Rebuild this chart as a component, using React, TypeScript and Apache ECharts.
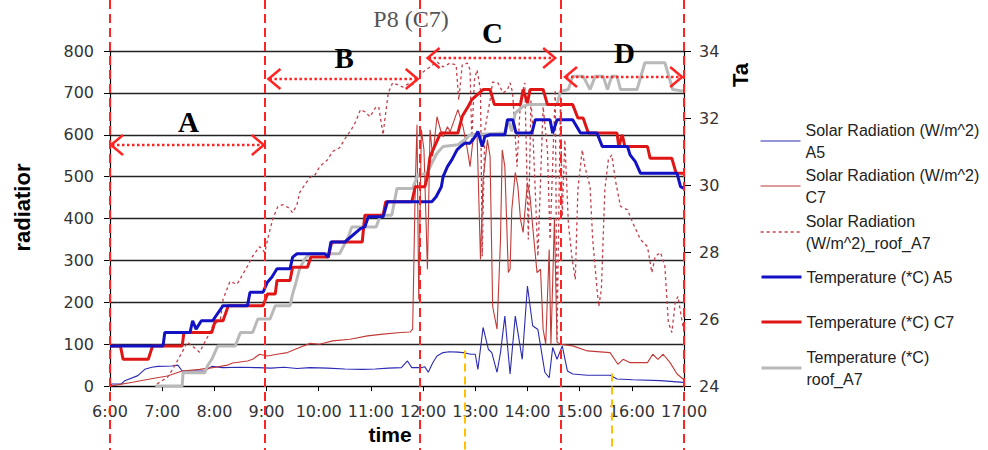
import React, { useEffect, useRef } from "react";
import * as echarts from "echarts";

// ---- data (time in minutes after midnight, value) ----
const SERIES_NAMES = [
  "Solar Radiation (W/m^2) A5",
  "Solar Radiation (W/m^2) C7",
  "Solar Radiation (W/m^2)_roof_A7",
  "Temperature (*C) A5",
  "Temperature (*C) C7",
  "Temperature (*C) roof_A7",
];
const LEGEND_LABELS = [
  "Solar Radiation (W/m^2)\nA5",
  "Solar Radiation (W/m^2)\nC7",
  "Solar Radiation\n(W/m^2)_roof_A7",
  "Temperature (*C) A5",
  "Temperature (*C) C7",
  "Temperature (*C)\nroof_A7",
];

const radA5: [number, number][] = [
  [360, 0], [362, 5], [373, 5], [377, 13], [392, 25], [400, 40], [408, 45], [415, 47], [431, 48], [438, 50],
  [443, 36], [469, 36], [477, 47], [490, 44], [510, 45], [530, 44], [545, 43], [560, 45], [575, 42], [590, 44],
  [610, 43], [630, 41], [650, 40], [665, 41], [680, 43], [695, 44], [702, 60], [707, 44], [718, 44], [722, 46],
  [726, 33], [731, 55], [736, 72], [743, 80], [750, 82], [760, 81], [766, 80], [775, 76], [780, 76], [783, 40],
  [789, 140], [795, 88], [799, 80], [805, 33], [809, 80], [814, 167], [820, 29], [826, 167], [834, 64], [840, 239],
  [846, 144], [852, 135], [860, 33], [865, 20], [869, 92], [874, 64], [880, 96], [886, 36], [892, 29], [909, 26],
  [935, 26], [943, 17], [961, 15], [993, 13], [1019, 9],
];

const radC7: [number, number][] = [
  [360, 0], [386, 9], [406, 17], [426, 24], [443, 36], [463, 40], [478, 44], [495, 50], [501, 55], [518, 60],
  [524, 64], [532, 76], [541, 72], [552, 76], [564, 80], [578, 92], [590, 102], [601, 100], [616, 108], [636, 112],
  [656, 120], [674, 124], [694, 128], [705, 129], [708, 136], [711, 478], [713, 624], [715, 207], [718, 612], [721, 564],
  [725, 279], [728, 612], [731, 548], [736, 643], [740, 612], [743, 595], [748, 619], [751, 607], [760, 660], [766, 619],
  [771, 564], [774, 524], [777, 581], [782, 605], [786, 302], [789, 493], [794, 588], [797, 548], [800, 190], [805, 136],
  [809, 350], [811, 564], [814, 524], [818, 271], [820, 279], [822, 421], [826, 510], [829, 476], [832, 398], [835, 367],
  [840, 486], [843, 452], [846, 381], [851, 271], [855, 279], [858, 136], [861, 100], [865, 326], [867, 100], [871, 398],
  [874, 105], [878, 100], [892, 96], [909, 84], [935, 80], [944, 52], [950, 64], [958, 56], [978, 56], [984, 76],
  [990, 64], [996, 76], [1004, 56], [1012, 29], [1019, 17],
];

const radRoofA7: [number, number][] = [
  [414, 5], [426, 21], [432, 40], [443, 81], [449, 105], [455, 95], [463, 81], [472, 117], [478, 143], [487, 160],
  [490, 207], [498, 250], [506, 243], [518, 286], [524, 310], [532, 333], [538, 319], [542, 357], [547, 398], [553, 429],
  [559, 433], [565, 426], [570, 414], [575, 433], [578, 462], [584, 481], [590, 498], [596, 505], [601, 524], [610, 540],
  [616, 560], [624, 569], [633, 600], [636, 607], [642, 629], [648, 660], [653, 655], [659, 643], [665, 664], [669, 667],
  [674, 600], [676, 636], [680, 700], [685, 724], [691, 719], [697, 714], [705, 724], [708, 719], [713, 731], [720, 750],
  [728, 762], [736, 774], [743, 762], [751, 771], [758, 767], [761, 683], [765, 767], [771, 771], [774, 755], [776, 588],
  [779, 731], [782, 755], [786, 707], [788, 310], [791, 612], [797, 683], [800, 726], [806, 724], [812, 700], [817, 707],
  [820, 724], [823, 700], [828, 524], [832, 683], [837, 724], [841, 350], [844, 683], [846, 619], [852, 310], [858, 667],
  [863, 564], [866, 350], [872, 707], [874, 112], [878, 700], [880, 405], [883, 588], [887, 390], [891, 310], [895, 255],
  [898, 469], [903, 564], [906, 524], [912, 476], [915, 350], [920, 231], [922, 190], [925, 231], [927, 350], [929, 469],
  [933, 540], [937, 552], [941, 493], [947, 429], [955, 421], [961, 390], [970, 350], [978, 333], [983, 271], [987, 310],
  [993, 319], [998, 286], [1002, 152], [1006, 128], [1010, 200], [1013, 214], [1018, 152], [1020, 128],
];

const tempA5: [number, number][] = [
  [360, 25.2], [421, 25.2], [423, 25.6], [452, 25.6], [455, 25.95], [459, 25.7], [465, 25.95], [478, 25.95], [490, 26.4], [518, 26.4],
  [521, 26.8], [536, 26.8], [541, 27.1], [546, 27.25], [552, 27.5], [567, 27.5], [570, 27.85], [575, 27.95], [607, 27.95], [611, 27.85],
  [614, 28.3], [630, 28.3], [648, 28.7], [653, 28.75], [657, 29.05], [674, 29.05], [679, 29.5], [730, 29.5], [735, 29.65], [741, 29.95],
  [743, 30.25], [748, 30.55], [753, 30.75], [759, 31.05], [763, 31.15], [768, 31.25], [774, 31.25], [780, 31.45], [783, 31.6], [788, 31.15],
  [791, 31.45], [797, 31.5], [814, 31.5], [817, 31.95], [823, 31.95], [827, 31.55], [845, 31.55], [849, 31.95], [866, 31.95], [869, 31.55],
  [874, 31.95], [892, 31.95], [901, 31.55], [920, 31.55], [926, 31.15], [955, 31.15], [958, 30.9], [964, 30.7], [970, 30.35], [1012, 30.35],
  [1016, 29.95], [1020, 29.9],
];

const tempC7: [number, number][] = [
  [360, 25.2], [372, 25.2], [375, 24.8], [404, 24.8], [409, 25.2], [443, 25.2], [445, 25.6], [477, 25.6], [481, 25.95], [490, 25.95],
  [496, 26.4], [536, 26.4], [541, 26.75], [550, 26.75], [552, 27.15], [567, 27.15], [570, 27.55], [587, 27.55], [591, 27.85], [611, 27.85],
  [615, 28.3], [650, 28.3], [653, 29.1], [674, 29.1], [677, 29.5], [707, 29.5], [711, 29.95], [722, 29.95], [725, 30.25], [728, 30.85],
  [734, 31.2], [740, 31.55], [760, 31.55], [765, 32.05], [772, 32.35], [776, 32.55], [789, 32.85], [797, 32.85], [802, 32.4], [832, 32.4],
  [835, 32.85], [840, 32.45], [843, 32.85], [858, 32.85], [863, 32.4], [892, 32.4], [898, 32.0], [904, 32.0], [910, 31.55], [943, 31.55],
  [945, 31.15], [949, 31.5], [952, 31.15], [978, 31.15], [981, 30.8], [1006, 30.8], [1011, 30.35], [1020, 30.35],
];

const tempRoofA7: [number, number][] = [
  [412, 24.0], [443, 24.0], [444, 24.4], [469, 24.4], [472, 24.6], [477, 24.8], [484, 25.2], [504, 25.2], [510, 25.6], [524, 25.6],
  [530, 26.0], [544, 26.0], [550, 26.4], [567, 26.4], [570, 26.75], [574, 27.1], [578, 27.5], [584, 27.8], [590, 27.95], [624, 27.95],
  [634, 28.45], [638, 28.75], [666, 28.75], [671, 29.1], [684, 29.1], [690, 29.9], [708, 29.9], [714, 30.3], [725, 30.35], [730, 30.65],
  [736, 30.95], [743, 31.15], [760, 31.2], [768, 31.35], [774, 31.5], [814, 31.55], [818, 31.95], [822, 31.6], [826, 32.15], [835, 32.35],
  [841, 32.4], [874, 32.4], [878, 32.8], [887, 32.85], [892, 33.25], [904, 33.25], [912, 32.85], [918, 33.25], [927, 33.25], [932, 32.85],
  [937, 33.25], [943, 33.25], [947, 32.85], [966, 32.85], [975, 33.65], [998, 33.65], [1007, 32.85], [1020, 32.8],
];

// period boundaries (minutes) and period labels
const periodLines = [360, 538, 717, 878, 1020];
const periodLabels = ["A", "B", "C", "D"];
const periodArrows: [number, number][] = [[360, 538], [541, 715], [724, 873], [882, 1019]];
const yellowMarks: [number, number][] = [[768, 85], [937, 30]];

const COLORS = ["#2b2bb2", "#c23a36", "#c2404c", "#1212c4", "#e01616", "#b9b9b9"];
const WIDTHS = [1.1, 1.1, 1.3, 3, 3, 3];

export default function App() {
  const ref = useRef<HTMLDivElement>(null);
  useEffect(() => {
    if (!ref.current) return;
    const chart = echarts.init(ref.current, null, { renderer: "svg" });
    const tickFont = { fontFamily: "DejaVu Sans", fontSize: 16, color: "#333" };
    const datasets = [radA5, radC7, radRoofA7, tempA5, tempC7, tempRoofA7];
    const iconY = [141, 186, 232, 277, 322, 368];

    const series = datasets.map((d, i) => ({
      name: SERIES_NAMES[i],
      type: "line",
      yAxisIndex: i < 3 ? 0 : 1,
      data: d,
      symbol: "none",
      showSymbol: false,
      z: i < 3 ? 2 : i === 5 ? 3 : i === 4 ? 4 : 5,
      lineStyle: {
        color: COLORS[i],
        width: WIDTHS[i],
        type: i === 2 ? [3, 3] : "solid",
      },
      itemStyle: { color: COLORS[i] },
    }));

    const legends = SERIES_NAMES.map((n, i) => {
      const two = LEGEND_LABELS[i].includes("\n");
      return {
        data: [n],
        left: 760,
        top: iconY[i] - (two ? 33 : 11),
        orient: "vertical",
        itemWidth: 40,
        itemHeight: 14,
        itemGap: 0,
        padding: 0,
        selectedMode: false,
        itemStyle: { opacity: 0 },
        lineStyle: { width: WIDTHS[i], color: COLORS[i], type: i === 2 ? [3, 3] : "solid" },
        formatter: () => LEGEND_LABELS[i],
        textStyle: {
          fontFamily: "Liberation Sans",
          fontSize: 16,
          lineHeight: 22,
          color: "#222",
          padding: two ? [22, 0, 0, 0] : 0,
        },
      };
    });

    chart.setOption({
      animation: false,
      backgroundColor: "#fff",
      title: {
        text: "P8 (C7)",
        left: 411,
        top: 7,
        padding: 0,
        textAlign: "center",
        textStyle: { fontFamily: "Liberation Serif", fontSize: 24, fontWeight: "normal", color: "#555" },
      },
      grid: { left: 110, right: 304, top: 51, bottom: 63, containLabel: false },
      legend: legends,
      xAxis: {
        type: "value",
        min: 360,
        max: 1020,
        interval: 60,
        name: "time",
        nameLocation: "middle",
        nameGap: 33,
        nameTextStyle: { fontFamily: "Liberation Sans", fontWeight: "bold", fontSize: 21, color: "#000", padding: [0, 14, 0, 0] },
        axisLine: { show: true, onZero: false, lineStyle: { color: "#000", width: 1.2 } },
        axisTick: { show: true, length: 5, lineStyle: { color: "#000" } },
        axisLabel: { ...tickFont, margin: 17, formatter: (v: number) => `${Math.round(v / 60)}:00` },
        splitLine: { show: false },
      },
      yAxis: [
        {
          type: "value",
          min: 0,
          max: 800,
          interval: 100,
          position: "left",
          name: "radiatior",
          nameLocation: "middle",
          nameRotate: 90,
          nameGap: 77,
          nameTextStyle: { fontFamily: "Liberation Sans", fontWeight: "bold", fontSize: 22, color: "#000", padding: [0, 0, 0, 22] },
          axisLine: { show: true, lineStyle: { color: "#000", width: 1.2 } },
          axisTick: { show: true, length: 6, lineStyle: { color: "#000" } },
          axisLabel: { ...tickFont, margin: 16 },
          splitLine: { show: true, lineStyle: { color: "#222", width: 1.4 } },
        },
        {
          type: "value",
          min: 24,
          max: 34,
          interval: 2,
          position: "right",
          axisLine: { show: true, lineStyle: { color: "#000", width: 1.2 } },
          axisTick: { show: true, length: 7, lineStyle: { color: "#000" } },
          axisLabel: { ...tickFont, margin: 15 },
          splitLine: { show: false },
        },
      ],
      series,
    });

    const px = (m: number) => chart.convertToPixel({ xAxisIndex: 0 }, m) as number;
    const pyL = (v: number) => chart.convertToPixel({ yAxisIndex: 0 }, v) as number;
    const red = "#ff2424";
    const arrowY = [145, 79, 58, 77];
    const letterY = [122, 58, 33, 53];
    const g: any[] = [];
    periodLines.forEach((m) => {
      const x = Math.round(px(m));
      g.push({
        type: "line",
        z: 100,
        shape: { x1: x, y1: 0, x2: x, y2: 450 },
        style: { stroke: red, lineWidth: 2, lineDash: [9, 5] },
      });
    });
    yellowMarks.forEach(([m, v]) => {
      const x = Math.round(px(m));
      g.push({
        type: "line",
        z: 100,
        shape: { x1: x, y1: pyL(v), x2: x, y2: 450 },
        style: { stroke: "#ffc000", lineWidth: 2, lineDash: [8, 5] },
      });
    });
    periodArrows.forEach(([a, b], i) => {
      const x1 = px(a);
      const x2 = px(b);
      const y = arrowY[i];
      g.push({
        type: "line",
        z: 100,
        shape: { x1: x1 + 2, y1: y, x2: x2 - 2, y2: y },
        style: { stroke: red, lineWidth: 2.5, lineDash: [2.5, 2.5] },
      });
      g.push({
        type: "polyline",
        z: 100,
        shape: { points: [[x1 + 13, y - 10], [x1 + 1, y], [x1 + 13, y + 10]] },
        style: { stroke: red, lineWidth: 2.5, fill: "none" },
      });
      g.push({
        type: "polyline",
        z: 100,
        shape: { points: [[x2 - 13, y - 10], [x2 - 1, y], [x2 - 13, y + 10]] },
        style: { stroke: red, lineWidth: 2.5, fill: "none" },
      });
      g.push({
        type: "text",
        z: 101,
        x: (x1 + x2) / 2 + 1,
        y: letterY[i],
        style: {
          text: periodLabels[i],
          font: "bold 29px 'Liberation Serif'",
          fill: "#000",
          align: "center",
          verticalAlign: "middle",
        },
      });
    });
    g.push({
      type: "text",
      z: 101,
      x: 740,
      y: 75,
      rotation: Math.PI / 2,
      style: {
        text: "Ta",
        font: "bold 22px 'Liberation Sans'",
        fill: "#000",
        align: "center",
        verticalAlign: "middle",
      },
    });
    chart.setOption({ graphic: g });

    return () => chart.dispose();
  }, []);

  return (
    <div
      ref={ref}
      style={{ position: "fixed", left: 0, top: 0, width: 988, height: 450, background: "#fff" }}
    />
  );
}
